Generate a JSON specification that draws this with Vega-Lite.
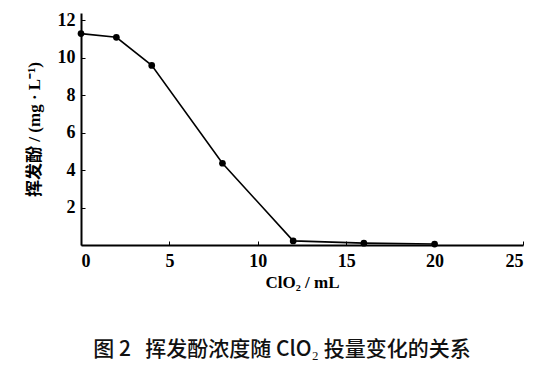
{
  "$schema": "https://vega.github.io/schema/vega-lite/v6.json",
  "width": 442,
  "height": 232,
  "autosize": {"type": "none"},
  "padding": {"left": 81, "top": 13, "right": 31, "bottom": 128},
  "background": "white",
  "config": {"view": {"stroke": null}},
  "title": {
    "text": "图 2\u00a0\u00a0\u00a0挥发酚浓度随 ClO₂ 投量变化的关系",
    "orient": "bottom",
    "anchor": "middle",
    "offset": 49,
    "dx": -20,
    "font": "Noto Sans CJK SC",
    "fontSize": 21,
    "fontWeight": 500,
    "color": "#111111"
  },
  "data": {
    "values": [
      {"x": 0, "y": 11.3},
      {"x": 2, "y": 11.1},
      {"x": 4, "y": 9.6},
      {"x": 8, "y": 4.37},
      {"x": 12, "y": 0.22},
      {"x": 16, "y": 0.1},
      {"x": 20, "y": 0.05}
    ]
  },
  "layer": [
    {
      "mark": {"type": "line", "color": "black", "strokeWidth": 1.6},
      "encoding": {
        "x": {"field": "x", "type": "quantitative"},
        "y": {"field": "y", "type": "quantitative"}
      }
    },
    {
      "mark": {"type": "point", "shape": "circle", "filled": true, "color": "black", "size": 45, "opacity": 1},
      "encoding": {
        "x": {
          "field": "x",
          "type": "quantitative",
          "scale": {"domain": [0, 25], "nice": false},
          "axis": {
            "values": [0, 5, 10, 15, 20, 25],
            "title": "ClO₂ / mL",
            "titleFont": "Liberation Serif",
            "titleFontSize": 17,
            "titleFontWeight": "bold",
            "titleColor": "black",
            "titlePadding": 4,
            "labelFont": "Liberation Serif",
            "labelFontSize": 18,
            "labelFontWeight": "bold",
            "labelColor": "black",
            "labelPadding": 11,
            "tickSize": -4,
            "tickColor": "black",
            "domainColor": "black",
            "domainWidth": 2,
            "grid": false
          }
        },
        "y": {
          "field": "y",
          "type": "quantitative",
          "scale": {"domain": [0, 12.4], "nice": false},
          "axis": {
            "values": [2, 4, 6, 8, 10, 12],
            "title": "挥发酚 / (mg · L⁻¹)",
            "titleFont": "Liberation Serif, Noto Sans CJK SC",
            "titleFontSize": 17,
            "titleFontWeight": "bold",
            "titleColor": "black",
            "titlePadding": 14,
            "labelFont": "Liberation Serif",
            "labelFontSize": 18,
            "labelFontWeight": "bold",
            "labelColor": "black",
            "labelPadding": 10,
            "tickSize": -4,
            "tickColor": "black",
            "domainColor": "black",
            "domainWidth": 2,
            "grid": false
          }
        }
      }
    }
  ]
}
